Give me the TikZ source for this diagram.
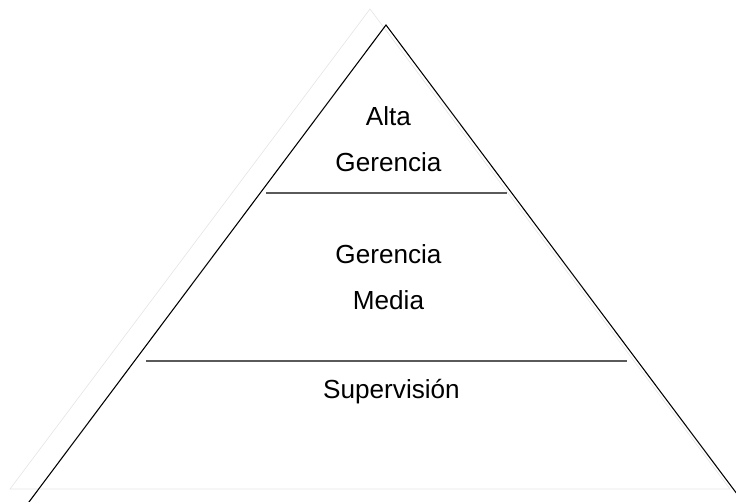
\documentclass[tikz,border=0pt]{standalone}
\usepackage{fontspec}
\setmainfont{Liberation Sans}
\definecolor{ghost}{RGB}{230,230,230}
\definecolor{divider}{RGB}{90,90,90}
\begin{document}
\begin{tikzpicture}[x=0.75pt,y=-0.75pt,
  outline/.style={draw=black,line width=0.8pt,line join=miter},
  shadowline/.style={draw=ghost,line width=0.5pt},
  levelline/.style={draw=divider,line width=1.1pt},
  label/.style={anchor=base,inner sep=0pt,font=\fontsize{19.6}{22}\selectfont}]
  \useasboundingbox (0,0) rectangle (736,502);
  \clip (0,0) rectangle (736,502);
  % pale offset outline behind the pyramid
  \coordinate (sTop) at (370,9);
  \coordinate (sLeft) at (10,489);
  \coordinate (sRight) at (730,489);
  \draw[shadowline] (sLeft) -- (sTop) -- (sRight) -- cycle;
  % pyramid sides (base lies below the page edge)
  \coordinate (top) at (386,25);
  \coordinate (left) at (17,518);
  \coordinate (right) at (755,518);
  \draw[outline] (left) -- (top) -- (right);
  % level dividers
  \coordinate (a1) at (266,193);
  \coordinate (a2) at (507,193);
  \coordinate (b1) at (146,361);
  \coordinate (b2) at (627,361);
  \draw[levelline] (a1) -- (a2);
  \draw[levelline] (b1) -- (b2);
  % level names
  \node[label] (alta) at (388.5,125.5) {Alta};
  \node[label] (gerA) at (388.5,172) {Gerencia};
  \node[label] (gerM) at (388.5,264) {Gerencia};
  \node[label] (media) at (388.5,310) {Media};
  \node[label] (sup) at (391.5,399) {Supervisión};
\end{tikzpicture}
\end{document}
